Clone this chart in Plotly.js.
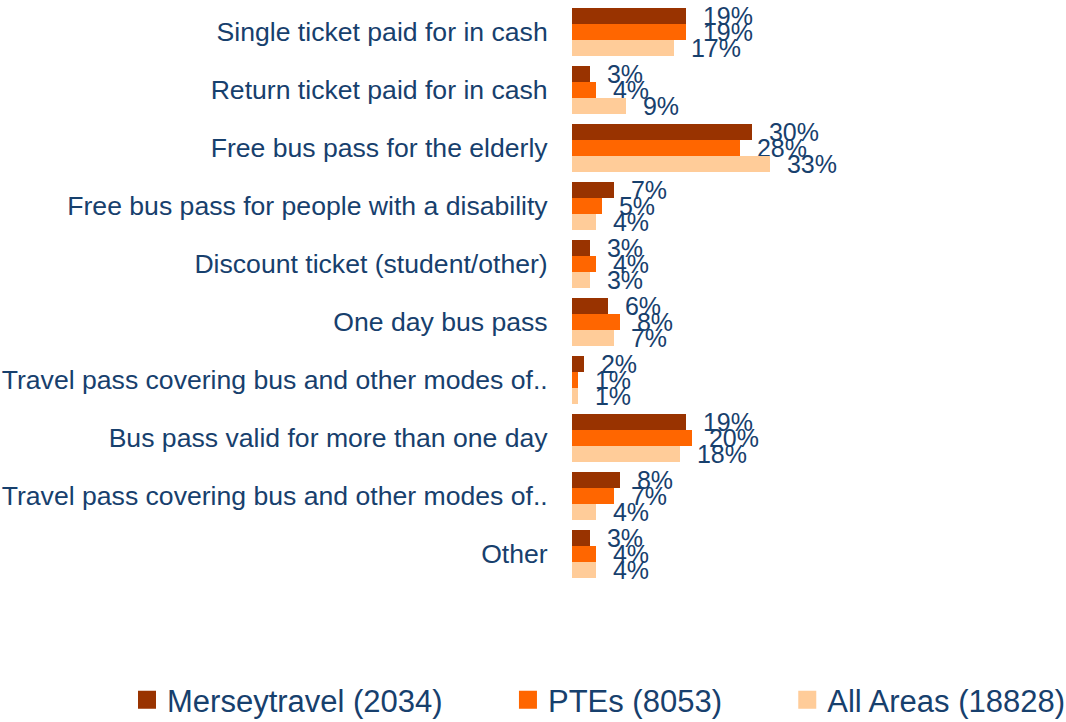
<!DOCTYPE html>
<html>
<head>
<meta charset="utf-8">
<script src="https://cdn.plot.ly/plotly-3.0.1.min.js"></script>
<style>html,body{margin:0;padding:0;background:#fff;}#chart{width:1066px;height:722px;}</style>
</head>
<body>
<div id="chart"></div>
<script>
var categories = [
  "Single ticket paid for in cash",
  "Return ticket paid for in cash",
  "Free bus pass for the elderly",
  "Free bus pass for people with a disability",
  "Discount ticket (student/other)",
  "One day bus pass",
  "Travel pass covering bus and other modes of..",
  "Bus pass valid for more than one day",
  "Travel pass covering bus and other modes of..",
  "Other"
];
var merseytravel = [19, 3, 30, 7, 3, 6, 2, 19, 8, 3];
var ptes         = [19, 4, 28, 5, 4, 8, 1, 20, 7, 4];
var allAreas     = [17, 9, 33, 4, 3, 7, 1, 18, 4, 4];
var seriesNames  = ["Merseytravel (2034)", "PTEs (8053)", "All Areas (18828)"];
var seriesColors = ["#993300", "#FF6600", "#FFCC99"];

var textColor = "#17406D";
var idx = categories.map(function(_, i){ return i; });
var allSeries = [merseytravel, ptes, allAreas];
var nb = "\u00a0";
var legendPad = [nb.repeat(7), nb.repeat(7), ""];

var traces = [];
allSeries.forEach(function(vals, s){
  traces.push({
    type: "bar",
    orientation: "h",
    x: vals,
    y: idx,
    name: seriesNames[s],
    showlegend: false,
    marker: {color: seriesColors[s]},
    text: vals.map(function(v){ return nb + nb + v + "%"; }),
    textposition: "outside",
    constraintext: "none",
    cliponaxis: false,
    textfont: {family: "Liberation Sans, Arial, sans-serif", size: 25, color: textColor},
    hoverinfo: "skip"
  });
});
// legend entries (square swatches)
allSeries.forEach(function(vals, s){
  traces.push({
    type: "scatter",
    mode: "markers",
    x: [null], y: [null],
    name: seriesNames[s] + legendPad[s],
    marker: {symbol: "square", size: 16, color: seriesColors[s], line: {width: 2, color: seriesColors[s]}},
    showlegend: true,
    hoverinfo: "skip"
  });
});

var plotL = 572, plotW = 480, plotT = 3, plotH = 580;
var layout = {
  width: 1066,
  height: 722,
  margin: {l: plotL, r: 1066 - plotL - plotW, t: plotT, b: 722 - plotT - plotH, autoexpand: false},
  paper_bgcolor: "#ffffff",
  plot_bgcolor: "#ffffff",
  barmode: "group",
  bargap: 10/58,
  bargroupgap: 0,
  font: {family: "Liberation Sans, Arial, sans-serif", color: textColor},
  xaxis: {range: [0, 80], visible: false, fixedrange: true},
  yaxis: {
    range: [9.5, -0.5],
    tickvals: idx,
    ticktext: categories,
    ticks: "outside",
    ticklen: 18,
    tickcolor: "rgba(0,0,0,0)",
    showgrid: false,
    zeroline: false,
    showline: false,
    tickfont: {size: 26.6, color: textColor},
    fixedrange: true
  },
  showlegend: true,
  legend: {
    orientation: "h",
    x: (127 - plotL) / plotW,
    xanchor: "left",
    y: -(700 - (plotT + plotH)) / plotH,
    yanchor: "middle",
    font: {size: 31, color: textColor},
    bgcolor: "rgba(0,0,0,0)"
  }
};

Plotly.newPlot("chart", traces, layout, {displayModeBar: false, staticPlot: true});
</script>
</body>
</html>
